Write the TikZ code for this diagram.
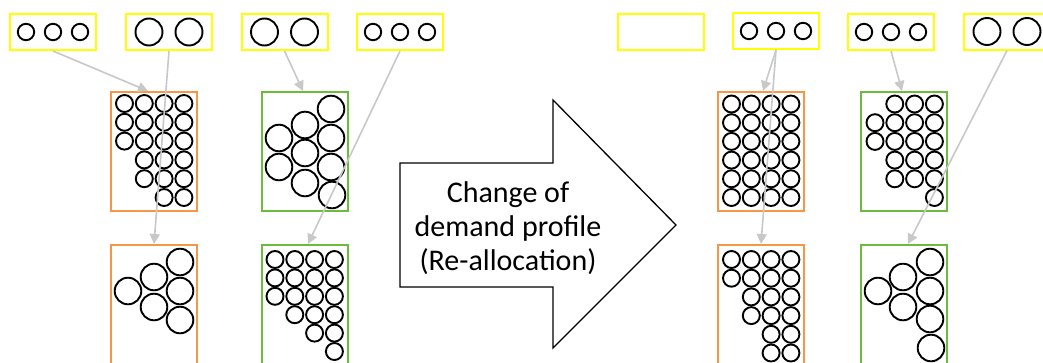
\documentclass[tikz,border=0pt]{standalone}
\usepackage{fontspec}
\setmainfont{Carlito}
\usetikzlibrary{arrows.meta}
\definecolor{slotyellow}{HTML}{FFFF00}
\definecolor{poolorange}{HTML}{F79646}
\definecolor{poolgreen}{HTML}{6CBB3C}
\definecolor{linkgray}{HTML}{C8C8C8}
\tikzset{
  slot/.style={draw=slotyellow, line width=2, minimum width=86, minimum height=36, inner sep=0},
  pool/.style={line width=2, minimum width=86, minimum height=119, inner sep=0},
  orangepool/.style={pool, draw=poolorange},
  greenpool/.style={pool, draw=poolgreen},
  ball/.style={draw=black, line width=1.9},
  link/.style={draw=linkgray, line width=1.6, -{Triangle[length=10, width=10]}},
  bigarrow/.style={draw=black, line width=1.3, fill=white},
}
% grid of small circles: rows given as row/{columns}
\newcommand{\ballgrid}[4]{% #1 = x of column 0, #2 = y of row 0, #3 = row pitch, #4 = list
  \foreach \r/\cs in {#4} {
    \foreach \c in \cs {
      \draw[ball] ({#1+19.8*\c},{#2+#3*\r}) circle[radius=8.5];
    }
  }
}
\begin{document}
\begin{tikzpicture}[x=1pt, y=-1pt]
\useasboundingbox (0,0) rectangle (1043,362);
\clip (0,0) rectangle (1043,362);

% ---------- before: slots ----------
\node[slot] (y1) at (53,32) {};
\node[slot] (y2) at (169,32) {};
\node[slot] (y3) at (284.5,32) {};
\node[slot] (y4) at (400,32) {};
\foreach \dx in {-27,0,27} \draw[ball] ([xshift=\dx]y1.center) circle[radius=8.2];
\foreach \dx in {-20,20} \draw[ball] ([xshift=\dx]y2.center) circle[radius=13.5];
\foreach \dx in {-20,20} \draw[ball] ([xshift=\dx]y3.center) circle[radius=13.5];
\foreach \dx in {-27,0,27} \draw[ball] ([xshift=\dx]y4.center) circle[radius=8.2];

% ---------- before: pools ----------
\node[orangepool] (o1) at (154,151.5) {};
\node[greenpool] (g1) at (305,151.5) {};
\node[orangepool] (ob1) at (154,304.5) {};
\node[greenpool] (gb1) at (305,304.5) {};

\ballgrid{124.5}{103.5}{18.8}{0/{0,1,2,3},1/{0,1,2,3},2/{0,1,2,3},3/{1,2,3},4/{1,2,3},5/{2,3}}
\foreach \p in {(331,109),(305,125),(279,138),(331,138),(305,153),(279,167),(331,167),(305,183),(332,195)}
  \draw[ball] \p circle[radius=13.3];
\foreach \p in {(180,262),(154,277),(128,291),(180,291),(154,307),(180,320)}
  \draw[ball] \p circle[radius=13.3];
\ballgrid{275}{259.5}{18.4}{0/{0,1,2,3},1/{0,1,2,3},2/{0,1,2,3},3/{1,2,3},4/{2,3},5/{3}}

% ---------- after: slots ----------
\node[slot] (y5) at (660.5,31.5) {};
\node[slot] (y6) at (776,31) {};
\node[slot] (y7) at (891,32) {};
\node[slot] (y8) at (1007,31.5) {};
\foreach \dx in {-27,0,27} \draw[ball] ([xshift=\dx]y6.center) circle[radius=8.2];
\foreach \dx in {-27,0,27} \draw[ball] ([xshift=\dx]y7.center) circle[radius=8.2];
\foreach \dx in {-20,20} \draw[ball] ([xshift=\dx]y8.center) circle[radius=13.5];

% ---------- after: pools ----------
\node[orangepool] (o2) at (761,151.5) {};
\node[greenpool] (g2) at (904,151.5) {};
\node[orangepool] (ob2) at (761,304.5) {};
\node[greenpool] (gb2) at (904,304.5) {};

\ballgrid{731.5}{104}{18.7}{0/{0,1,2,3},1/{0,1,2,3},2/{0,1,2,3},3/{0,1,2,3},4/{0,1,2,3},5/{0,1,2,3}}
\ballgrid{875}{104}{18.7}{0/{1,2,3},1/{0,1,2,3},2/{0,1,2,3},3/{1,2,3},4/{1,2,3},5/{3}}
\ballgrid{731.5}{259.5}{18.7}{0/{0,1,2,3},1/{0,1,2,3},2/{1,2,3},3/{1,2,3},4/{2,3},5/{2,3}}
\foreach \p in {(930,262),(903,277),(878,291),(930,291),(903,307),(930,319),(931,348)}
  \draw[ball] \p circle[radius=13.3];

% ---------- allocation links ----------
\draw[link] (y1.south) -- ([xshift=-6]o1.north);
\draw[link] (y2.south) -- (ob1.north);
\draw[link] (y3.south) -- ([xshift=-2]g1.north);
\draw[link] (y4.south) -- ([xshift=3]gb1.north);
\draw[link] (y6.south) -- ([xshift=2]o2.north);
\draw[link] (y6.south) -- (ob2.north);
\draw[link] (y7.south) -- ([xshift=-2]g2.north);
\draw[link] (y8.south) -- ([xshift=4]gb2.north);

% ---------- transition arrow ----------
\draw[bigarrow] (400,163) -- (553,163) -- (553,100) -- (676,225) -- (553,348)
  -- (553,287) -- (400,287) -- cycle;
\node[align=center, font=\fontsize{30}{34}\selectfont, inner sep=0] (label) at (508,228)
  {Change of\\demand profile\\(Re-allocation)};
\end{tikzpicture}
\end{document}
